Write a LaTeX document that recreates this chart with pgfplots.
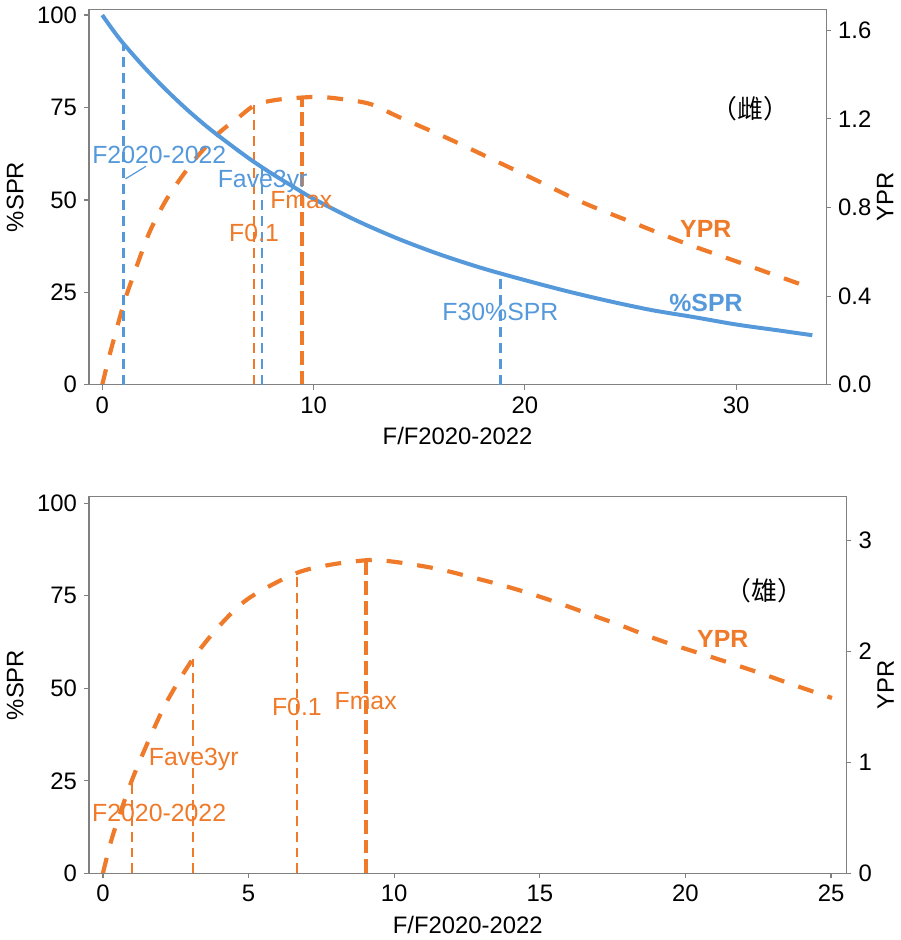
\documentclass[border=0pt]{standalone}
\usepackage{fontspec}
\setmainfont{Liberation Sans}
\newfontfamily\cjk{Noto Sans CJK SC}
\usepackage{pgfplots}
\pgfplotsset{compat=1.18}

\definecolor{sprblue}{HTML}{5599DB}
\definecolor{yprorange}{HTML}{EF7A2A}
\definecolor{spine}{HTML}{808080}

\pgfplotsset{
  panel/.style={
    scale only axis,
    tick align=outside,
    major tick length=2.5pt,
    /pgf/number format/assume math mode=true,
    tick label style={font=\fontsize{12}{14}\selectfont, black},
    label style={font=\fontsize{12}{14}\selectfont},
    every tick/.style={spine, line width=0.6pt},
    axis line style={spine, line width=0.6pt},
  },
  rightpanel/.style={axis x line=none, axis y line*=right, ylabel shift=-4pt},
  refline/.style={line width=1.3pt, dash pattern=on 5pt off 3pt},
  fmaxline/.style={line width=2pt, dash pattern=on 7pt off 3pt},
  yprcurve/.style={yprorange, line width=2.1pt, dash pattern=on 8pt off 7.5pt, smooth},
}

\begin{document}
\begin{tikzpicture}[font=\fontsize{12.5}{15}\selectfont]

% ---------- top panel (female) ----------
\begin{axis}[panel, rightpanel, at={(0,0)}, anchor=south west,
    width=371pt, height=189pt,
    xmin=-0.63, xmax=34.26, ymin=0, ymax=1.695,
    ytick={0,0.4,0.8,1.2,1.6},
    yticklabel style={/pgf/number format/.cd, fixed, fixed zerofill, precision=1},
    ylabel={YPR}]
\addplot[yprcurve] coordinates {
 (0,0) (0.35,0.135) (1,0.36) (1.5,0.50) (2.23,0.687) (3,0.83) (3.79,0.942)
 (4.5,1.03) (5.52,1.136) (6.5,1.21) (7.24,1.263) (8.2,1.285) (9.44,1.296)
 (10.5,1.298) (12.57,1.27) (14,1.21) (16.49,1.106) (18.84,1.0) (20.5,0.925)
 (22.75,0.822) (25,0.736) (27.46,0.643) (30,0.557) (33.62,0.434)};
\addplot[yprorange, refline] coordinates {(7.19,0) (7.19,1.268)};
\addplot[yprorange, fmaxline] coordinates {(9.43,0) (9.43,1.295)};
\end{axis}

\begin{axis}[panel, at={(0,0)}, anchor=south west,
    width=371pt, height=189pt,
    xmin=-0.63, xmax=34.26, ymin=0, ymax=101.6,
    xtick={0,10,20,30}, ytick={0,25,50,75,100},
    xtick pos=bottom, ytick pos=left,
    xlabel={F/F2020-2022}, ylabel={\%SPR}]
\addplot[sprblue, refline] coordinates {(1,0) (1,92.3)};
\addplot[sprblue, refline] coordinates {(7.55,0) (7.55,59.6)};
\addplot[sprblue, refline] coordinates {(18.84,0) (18.84,30)};
\addplot[sprblue, line width=2pt, smooth] coordinates {
 (0,100) (0.5,96) (1,92.3) (2,85.8) (3,79.9) (4,74.5) (5,69.6) (6,65.2)
 (7,61.0) (8,57.2) (9,53.7) (10,50.3) (12,44.5) (14,39.5) (16,35.2)
 (18,31.5) (20,28.3) (22,25.3) (24,22.6) (26,20.2) (28,18.3) (30,16.3)
 (32,14.7) (33.6,13.4)};
\addplot[sprblue, line width=0.6pt] coordinates {(2.07,59.1) (1.10,55.7)};
\node[sprblue] at (axis cs:2.70,62.1) {F2020-2022};
\node[sprblue] at (axis cs:7.59,54.9) {Fave3yr};
\node[yprorange] at (axis cs:9.42,50.0) {Fmax};
\node[yprorange] at (axis cs:7.18,41.0) {F0.1};
\node[sprblue] at (axis cs:18.84,19.7) {F30\%SPR};
\node[sprblue, font=\fontsize{12.5}{15}\selectfont\bfseries] at (axis cs:28.57,22.0) {\%SPR};
\node[yprorange, font=\fontsize{12.5}{15}\selectfont\bfseries] at (axis cs:28.56,42.1) {YPR};
\node[black, font=\fontsize{13}{15}\selectfont\cjk] at (axis cs:30.67,74.6) {（雌）};
\end{axis}

% ---------- bottom panel (male) ----------
\begin{axis}[panel, rightpanel, at={(0,-245.85pt)}, anchor=south west,
    width=381.2pt, height=189.5pt,
    xmin=-0.48, xmax=25.53, ymin=0, ymax=3.393,
    ytick={0,1,2,3},
    ylabel={YPR}]
\addplot[yprcurve] coordinates {
 (0,0) (0.34,0.343) (0.97,0.821) (1.59,1.209) (2.2,1.55) (3.07,1.925)
 (4,2.23) (5,2.477) (6.6,2.701) (7.8,2.78) (8.99,2.82) (9.56,2.82)
 (10.46,2.79) (11.55,2.74) (12.63,2.67) (13.65,2.60) (14.68,2.52)
 (15.7,2.43) (16.75,2.33) (17.77,2.235) (18.8,2.13) (19.68,2.05)
 (21,1.94) (22.5,1.81) (23.8,1.69) (25.03,1.58)};
\addplot[yprorange, refline] coordinates {(1.0,0) (1.0,0.82)};
\addplot[yprorange, refline] coordinates {(3.10,0) (3.10,1.93)};
\addplot[yprorange, refline] coordinates {(6.66,0) (6.66,2.72)};
\addplot[yprorange, fmaxline] coordinates {(9.03,0) (9.03,2.82)};
\end{axis}

\begin{axis}[panel, at={(0,-245.85pt)}, anchor=south west,
    width=381.2pt, height=189.5pt,
    xmin=-0.48, xmax=25.53, ymin=0, ymax=101.8,
    xtick={0,5,10,15,20,25}, ytick={0,25,50,75,100},
    xtick pos=bottom, ytick pos=left,
    xlabel={F/F2020-2022}, ylabel={\%SPR}]
\node[yprorange] at (axis cs:1.93,16.4) {F2020-2022};
\node[yprorange] at (axis cs:3.12,30.9) {Fave3yr};
\node[yprorange] at (axis cs:6.66,45.0) {F0.1};
\node[yprorange] at (axis cs:9.02,46.6) {Fmax};
\node[yprorange, font=\fontsize{12.5}{15}\selectfont\bfseries] at (axis cs:21.28,63.4) {YPR};
\node[black, font=\fontsize{13}{15}\selectfont\cjk] at (axis cs:22.72,76.4) {（雄）};
\end{axis}

\end{tikzpicture}
\end{document}
